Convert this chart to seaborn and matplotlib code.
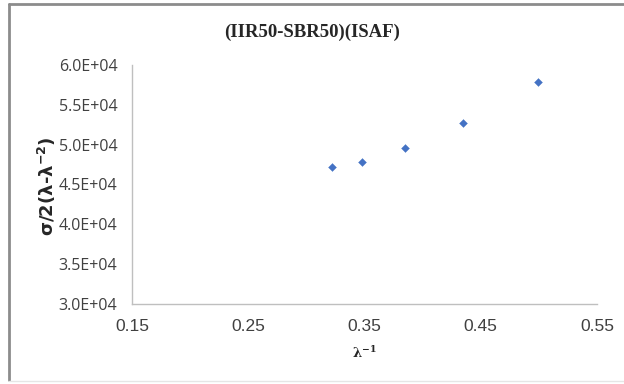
import matplotlib
matplotlib.use("Agg")
import matplotlib.pyplot as plt
import seaborn as sns
import pandas as pd
from matplotlib.lines import Line2D

inv_lambda = [0.322, 0.348, 0.385, 0.435, 0.499]
stress_ratio = [47250, 47800, 49600, 52750, 57900]
x_ticks = [0.15, 0.25, 0.35, 0.45, 0.55]
y_ticks = [30000, 35000, 40000, 45000, 50000, 55000, 60000]
y_tick_labels = ["3.0E+04", "3.5E+04", "4.0E+04", "4.5E+04", "5.0E+04", "5.5E+04", "6.0E+04"]

sns.set_theme(style="white")
plt.rcParams['font.family'] = ['Open Sans', 'DejaVu Sans']

df = pd.DataFrame({"x": inv_lambda, "y": stress_ratio})

fig = plt.figure(figsize=(6.24, 3.84), dpi=100)
ax = fig.add_axes([132/624, 1-304/384, (597-132)/624, (304-65)/384])

sns.scatterplot(data=df, x="x", y="y", ax=ax, marker="D", s=16,
                color="#4472C4", edgecolor="#4472C4", linewidth=0.3)

ax.set_xlim(0.15, 0.55)
ax.set_ylim(30000, 60000)
ax.set_xticks(x_ticks)
ax.set_xticklabels([f"{t:.2f}" for t in x_ticks], family=["Liberation Sans"], fontsize=12.5)
ax.set_yticks(y_ticks)
ax.set_yticklabels(y_tick_labels, family=["Open Sans"], fontsize=11.5)
ax.tick_params(axis="both", length=0, colors="#404040")
ax.tick_params(axis="x", pad=11)
ax.tick_params(axis="y", pad=10.5)

for side in ["top", "right"]:
    ax.spines[side].set_visible(False)
for side in ["left", "bottom"]:
    ax.spines[side].set_color("#BFBFBF")
    ax.spines[side].set_linewidth(1.0)

ax.set_xlabel("")
ax.set_ylabel("")
fig.text(364/624, 1-353/384, "λ$^{\\mathregular{-1}}$", ha="center", va="center",
         fontsize=9.5, fontweight="bold", color="#262626", family=["DejaVu Serif"])
fig.text(47/624, 1-186/384, "σ/2(λ-λ$^{\\mathregular{-2}}$)", ha="center", va="center",
         rotation=90, fontsize=13, fontweight="bold", color="#262626", family=["DejaVu Sans"])
fig.text(312/624, 1-32/384, "(IIR50-SBR50)(ISAF)", ha="center", va="center",
         fontsize=13.5, fontweight="bold", color="#262626", family=["Liberation Serif"])

# outer chart frame
fig.add_artist(Line2D([9/624, 9/624], [1-4/384, 0.01], transform=fig.transFigure,
                      color="#8C8C8C", linewidth=2.0))
fig.add_artist(Line2D([9/624, 1.0], [1-4/384, 1-4/384], transform=fig.transFigure,
                      color="#8C8C8C", linewidth=2.0))
fig.add_artist(Line2D([9/624, 1.0], [1-381/384, 1-381/384], transform=fig.transFigure,
                      color="#E6E6E6", linewidth=1.0))

fig.savefig("out.png", dpi=100)
